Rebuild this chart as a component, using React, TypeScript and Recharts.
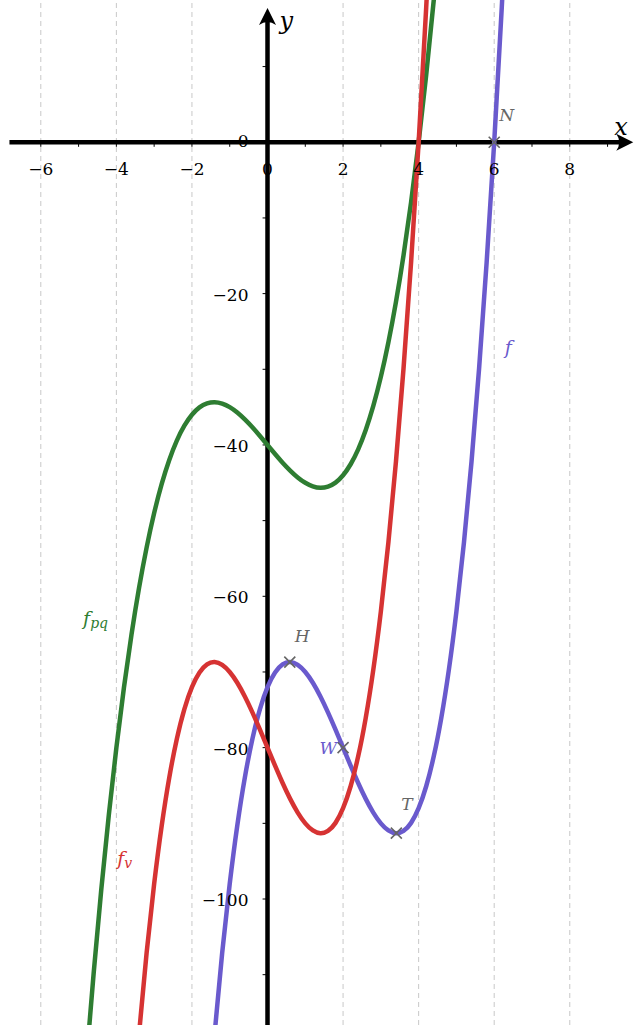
import React from "react";
import { ComposedChart, Line, XAxis, YAxis, ReferenceLine, ReferenceDot } from "recharts";

// f (purple)
const fX = [-1.6,-1.4,-1.2,-1.0,-0.8,-0.6,-0.4,-0.2,0,0.2,0.4,0.6,0.8,1.0,1.2,1.4,1.6,1.8,2.0,2.2,2.4,2.6,2.8,3.0,3.2,3.4,3.6,3.8,4.0,4.2,4.4,4.6,4.8,5.0,5.2,5.4,5.6,5.8,6.0,6.2,6.4];
const fY = [-130.11,-117.81,-107.14,-98.0,-90.3,-83.95,-78.85,-74.9,-72.0,-70.06,-68.99,-68.69,-69.06,-70.0,-71.42,-73.23,-75.33,-77.62,-80.0,-82.38,-84.67,-86.77,-88.58,-90.0,-90.94,-91.31,-91.01,-89.94,-88.0,-85.1,-81.15,-76.05,-69.7,-62.0,-52.86,-42.19,-29.89,-15.86,0.0,17.78,37.57];
// f_v (red)
const fvX = [-3.6,-3.4,-3.2,-3.0,-2.8,-2.6,-2.4,-2.2,-2.0,-1.8,-1.6,-1.4,-1.2,-1.0,-0.8,-0.6,-0.4,-0.2,0,0.2,0.4,0.6,0.8,1.0,1.2,1.4,1.6,1.8,2.0,2.2,2.4,2.6,2.8,3.0,3.2,3.4,3.6,3.8,4.0,4.2,4.4];
const fvY = [-130.11,-117.81,-107.14,-98.0,-90.3,-83.95,-78.85,-74.9,-72.0,-70.06,-68.99,-68.69,-69.06,-70.0,-71.42,-73.23,-75.33,-77.62,-80.0,-82.38,-84.67,-86.77,-88.58,-90.0,-90.94,-91.31,-91.01,-89.94,-88.0,-85.1,-81.15,-76.05,-69.7,-62.0,-52.86,-42.19,-29.89,-15.86,0.0,17.78,37.57];
// f_pq (green)
const fpqX = [-4.8,-4.6,-4.4,-4.2,-4.0,-3.8,-3.6,-3.4,-3.2,-3.0,-2.8,-2.6,-2.4,-2.2,-2.0,-1.8,-1.6,-1.4,-1.2,-1.0,-0.8,-0.6,-0.4,-0.2,0,0.2,0.4,0.6,0.8,1.0,1.2,1.4,1.6,1.8,2.0,2.2,2.4,2.6,2.8,3.0,3.2,3.4,3.6,3.8,4.0,4.2,4.4,4.6];
const fpqY = [-121.79,-109.74,-98.78,-88.89,-80.0,-72.07,-65.06,-58.9,-53.57,-49.0,-45.15,-41.98,-39.42,-37.45,-36.0,-35.03,-34.5,-34.34,-34.53,-35.0,-35.71,-36.62,-37.66,-38.81,-40.0,-41.19,-42.34,-43.38,-44.29,-45.0,-45.47,-45.66,-45.5,-44.97,-44.0,-42.55,-40.58,-38.02,-34.85,-31.0,-26.43,-21.1,-14.94,-7.93,0.0,8.89,18.78,29.74];

// marked points
const pointNames = ["H", "W", "T", "N"];
const pointX = [0.59, 2, 3.41, 6];
const pointY = [-68.7, -80, -91.3, 0];

const xTickValues = [-6, -4, -2, 0, 2, 4, 6, 8];
const xTickLabels = ["\u22126", "\u22124", "\u22122", "0", "2", "4", "6", "8"];
const yTickValues = [0, -20, -40, -60, -80, -100];
const yTickLabels = ["0", "\u221220", "\u221240", "\u221260", "\u221280", "\u2212100"];
const gridX = [-6, -4, -2, 2, 4, 6, 8];
const xMinor = [-6, -5, -4, -3, -2, -1, 1, 2, 3, 4, 5, 6, 7, 8, 9];
const yMinor = [10, -10, -20, -30, -40, -50, -60, -70, -80, -90, -100, -110];

const X_DOMAIN: [number, number] = [-7.08, 9.7];
const Y_DOMAIN: [number, number] = [-116.65, 18.8];

const PURPLE = "#6a5acd";
const RED = "#d63333";
const GREEN = "#2e7d32";
const GRAY = "#666666";
const FONT = "DejaVu Serif";

const toData = (xs: number[], ys: number[]) => xs.map((x, i) => ({ x, y: ys[i] }));
const fData = toData(fX, fY);
const fvData = toData(fvX, fvY);
const fpqData = toData(fpqX, fpqY);

const labelOffsets: Record<string, { dx: number; dy: number; anchor: string; color: string }> = {
  H: { dx: 5, dy: -20, anchor: "start", color: GRAY },
  W: { dx: -6, dy: 6, anchor: "end", color: PURPLE },
  T: { dx: 5, dy: -23, anchor: "start", color: GRAY },
  N: { dx: 5, dy: -21, anchor: "start", color: GRAY },
};

export default function App() {
  return (
    <div style={{ position: "absolute", left: 0, top: 0, width: 634, height: 1025, background: "#fff" }}>
      <ComposedChart width={634} height={1025} margin={{ top: 0, right: 0, bottom: 0, left: 0 }}>
        <XAxis type="number" dataKey="x" domain={X_DOMAIN} allowDataOverflow hide />
        <YAxis type="number" dataKey="y" domain={Y_DOMAIN} allowDataOverflow hide />

        {gridX.map((g) => (
          <ReferenceLine key={"g" + g} x={g} stroke="#c8c8c8" strokeWidth={1} strokeDasharray="5 4" />
        ))}

        {xTickValues.map((v, i) => (
          <ReferenceDot
            key={"xl" + v}
            x={v}
            y={0}
            ifOverflow="visible"
            shape={(p: any) => (
              <text x={p.cx} y={p.cy + 33} textAnchor="middle" fontFamily={FONT} fontSize={17} fill="#000">
                {xTickLabels[i]}
              </text>
            )}
          />
        ))}
        {yTickValues.map((v, i) => (
          <ReferenceDot
            key={"yl" + v}
            x={0}
            y={v}
            ifOverflow="visible"
            shape={(p: any) => (
              <text x={p.cx - 19} y={p.cy + (v === 0 ? 5 : 7)} textAnchor="end" fontFamily={FONT} fontSize={17} fill="#000">
                {yTickLabels[i]}
              </text>
            )}
          />
        ))}

        {xMinor.map((v) => (
          <ReferenceLine key={"xm" + v} segment={[{ x: v, y: 0 }, { x: v, y: -0.6 }]} stroke="#000" strokeWidth={1} />
        ))}
        {yMinor.map((v) => (
          <ReferenceLine key={"ym" + v} segment={[{ x: -0.13, y: v }, { x: 0, y: v }]} stroke="#000" strokeWidth={1} />
        ))}

        <ReferenceLine segment={[{ x: -6.83, y: 0 }, { x: 9.4, y: 0 }]} stroke="#000" strokeWidth={4.5} ifOverflow="visible" />
        <ReferenceLine segment={[{ x: 0, y: -116.65 }, { x: 0, y: 16 }]} stroke="#000" strokeWidth={4.5} ifOverflow="visible" />
        <ReferenceDot
          x={9.68}
          y={0}
          ifOverflow="visible"
          shape={(p: any) => (
            <g>
              <path
                d={`M ${p.cx} ${p.cy} L ${p.cx - 17} ${p.cy - 8.5} Q ${p.cx - 11} ${p.cy} ${p.cx - 17} ${p.cy + 8.5} Z`}
                fill="#000"
              />
              <text x={p.cx - 19} y={p.cy - 7} fontFamily={FONT} fontStyle="italic" fontSize={24} fill="#000">x</text>
            </g>
          )}
        />
        <ReferenceDot
          x={0}
          y={17.75}
          ifOverflow="visible"
          shape={(p: any) => (
            <g>
              <path
                d={`M ${p.cx} ${p.cy} L ${p.cx - 8.5} ${p.cy + 17} Q ${p.cx} ${p.cy + 11} ${p.cx + 8.5} ${p.cy + 17} Z`}
                fill="#000"
              />
              <text x={p.cx + 12} y={p.cy + 21} fontFamily={FONT} fontStyle="italic" fontSize={24} fill="#000">y</text>
            </g>
          )}
        />

        <Line data={fpqData} dataKey="y" type="natural" stroke={GREEN} strokeWidth={4.5} dot={false} isAnimationActive={false} />
        <Line data={fData} dataKey="y" type="natural" stroke={PURPLE} strokeWidth={4.5} dot={false} isAnimationActive={false} />
        <Line data={fvData} dataKey="y" type="natural" stroke={RED} strokeWidth={4.5} dot={false} isAnimationActive={false} />

        {pointNames.map((name, i) => {
          const o = labelOffsets[name];
          return (
            <ReferenceDot
              key={"pt" + name}
              x={pointX[i]}
              y={pointY[i]}
              ifOverflow="visible"
              shape={(p: any) => (
                <g>
                  <path
                    d={`M ${p.cx - 5.5} ${p.cy - 5.5} L ${p.cx + 5.5} ${p.cy + 5.5} M ${p.cx - 5.5} ${p.cy + 5.5} L ${p.cx + 5.5} ${p.cy - 5.5}`}
                    stroke={GRAY}
                    strokeWidth={1.6}
                  />
                  <text x={p.cx + o.dx} y={p.cy + o.dy} textAnchor={o.anchor as any} fontFamily={FONT} fontStyle="italic" fontSize={17} fill={o.color}>
                    {name}
                  </text>
                </g>
              )}
            />
          );
        })}

        <ReferenceDot
          x={6.28}
          y={-28}
          ifOverflow="visible"
          shape={(p: any) => (
            <text x={p.cx} y={p.cy} fontFamily={FONT} fontStyle="italic" fontSize={19} fill={PURPLE}>f</text>
          )}
        />
        <ReferenceDot
          x={-4.88}
          y={-63.8}
          ifOverflow="visible"
          shape={(p: any) => (
            <text x={p.cx} y={p.cy} fontFamily={FONT} fontStyle="italic" fontSize={19} fill={GREEN}>
              f<tspan dy={3} fontSize={14}>pq</tspan>
            </text>
          )}
        />
        <ReferenceDot
          x={-3.98}
          y={-95.5}
          ifOverflow="visible"
          shape={(p: any) => (
            <text x={p.cx} y={p.cy} fontFamily={FONT} fontStyle="italic" fontSize={19} fill={RED}>
              f<tspan dy={3} fontSize={14}>v</tspan>
            </text>
          )}
        />
      </ComposedChart>
    </div>
  );
}
